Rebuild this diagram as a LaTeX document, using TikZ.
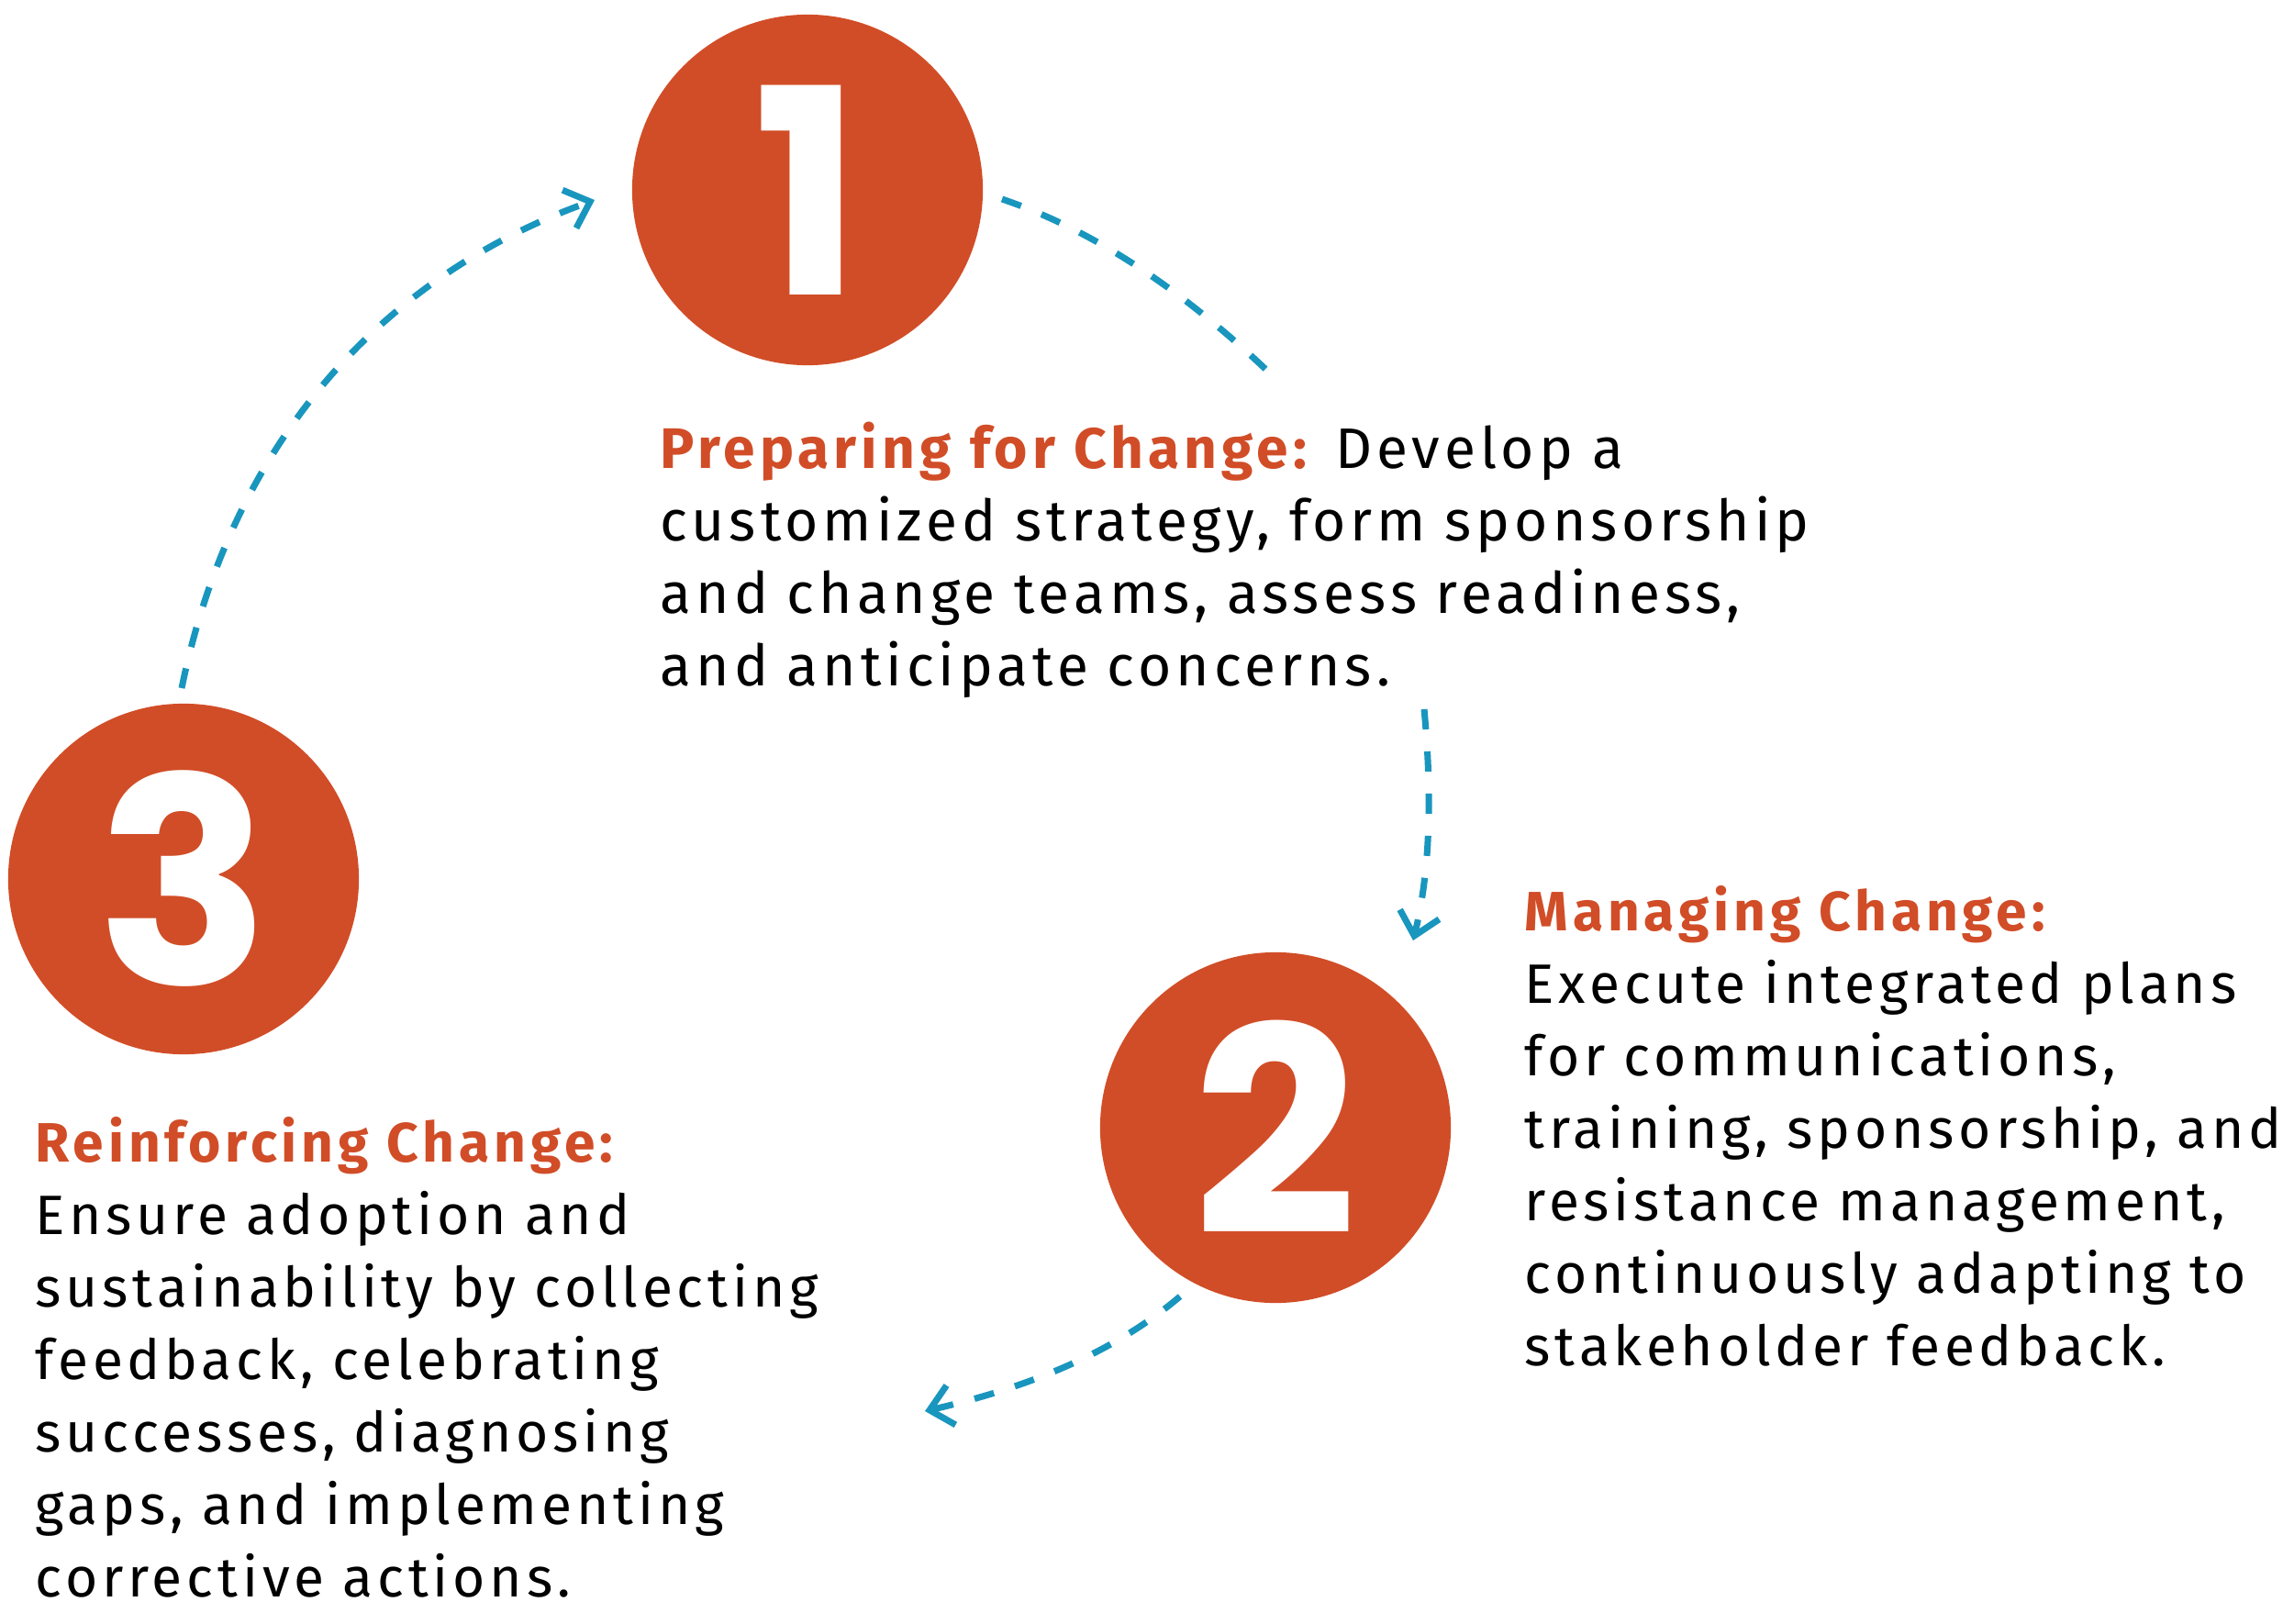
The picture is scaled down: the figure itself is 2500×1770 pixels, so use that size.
\documentclass[tikz,border=0pt]{standalone}
\usepackage{fontspec}
\usetikzlibrary{arrows.meta}
\newfontfamily\bodyfont{Fira Sans}[LetterSpace=8]
\newfontfamily\digitfont{Poppins}
\definecolor{burnt}{HTML}{D14D27}
\definecolor{arrowblue}{HTML}{1996BE}
\tikzset{
  stepcirc/.style={circle, fill=burnt, minimum size=3.82cm, inner sep=0pt, text=white,
    font=\digitfont\bfseries\fontsize{89}{89}\selectfont},
  desc/.style={anchor=base west, inner sep=0pt, align=left, text width=14cm,
    font=\bodyfont\fontsize{17.2}{22.48}\selectfont},
  descwide/.style={desc, font=\bodyfont\fontsize{17.7}{22.48}\selectfont},
  flow/.style={draw=arrowblue, line width=0.07cm, dash pattern=on 0.22cm off 0.24cm},
  head/.style={-{Straight Barb[length=0.24cm,width=0.44cm]}}
}
\newcommand{\hd}[1]{{\color{burnt}\bfseries #1}}
\begin{document}
\begin{tikzpicture}[x=0.01cm,y=-0.01cm]
\useasboundingbox (0,0) rectangle (2500,1770);
\fill[white] (0,0) rectangle (2500,1770);

\node[stepcirc] (c1) at (880,207) {1};
\node[stepcirc] (c2) at (1390,1229) {2};
\node[stepcirc] (c3) at (200,958) {3};

\node[descwide] (t1) at (719,510) {\hd{Preparing for Change:} Develop a\\
customized strategy, form sponsorship\\
and change teams, assess readiness,\\
and anticipate concerns.};

\node[desc] (t2) at (1661,1014) {\hd{Managing Change:}\\
Execute integrated plans\\
for communications,\\
training, sponsorship, and\\
resistance management,\\
continuously adapting to\\
stakeholder feedback.};

\node[desc] (t3) at (38,1266) {\hd{Reinforcing Change:}\\
Ensure adoption and\\
sustainability by collecting\\
feedback, celebrating\\
successes, diagnosing\\
gaps, and implementing\\
corrective actions.};

\coordinate (a1s) at (1092,217);
\coordinate (a1e) at (1382,405);
\coordinate (a2s) at (1552,773);
\coordinate (a2e) at (1540,1025);
\coordinate (a3s) at (1286,1413);
\coordinate (a3e) at (1008,1538);
\coordinate (a4s) at (198,750);
\coordinate (a4e) at (648,218);

\draw[flow] (a1s) .. controls (1201,254) and (1299,326) .. (a1e);
\draw[flow,head] (a2s) .. controls (1560,857) and (1560,944) .. (a2e);
\draw[flow,head] (a3s) .. controls (1207,1480) and (1108,1515) .. (a3e);
\draw[flow,head] (a4s) .. controls (250,495) and (404,306) .. (a4e);
\end{tikzpicture}
\end{document}
